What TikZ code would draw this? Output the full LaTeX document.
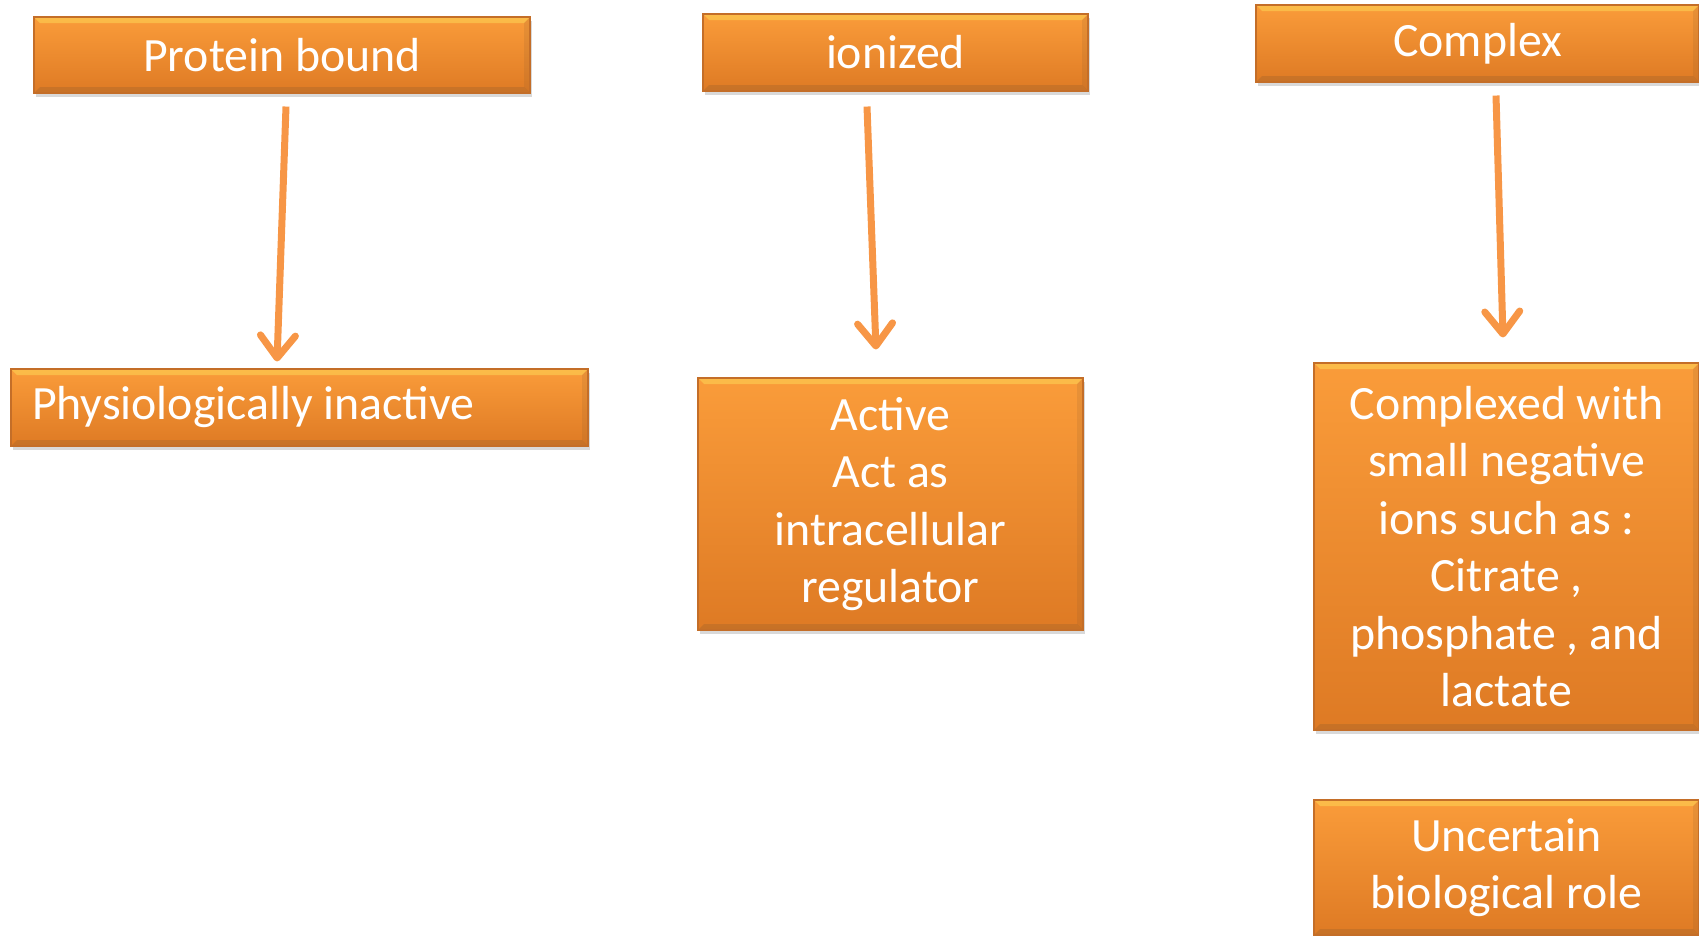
\documentclass[tikz,border=0pt]{standalone}
\usepackage{fontspec}
\setmainfont{Carlito}
\usetikzlibrary{arrows.meta,shadows}

\definecolor{boxtop}{RGB}{250,156,58}
\definecolor{boxbot}{RGB}{222,122,36}
\definecolor{boxrim}{RGB}{196,110,40}
\definecolor{arrcol}{RGB}{247,150,70}

\tikzset{
  orangebox/.style={draw=boxrim, line width=0.6pt,
    top color=boxtop, bottom color=boxbot,
    text=white, inner sep=0cm, align=center,
    font=\fontsize{27.2}{32.7}\selectfont,
    drop shadow={opacity=0.3, shadow xshift=0.04cm, shadow yshift=-0.08cm},
    path picture={
      \fill[yellow!60!white, opacity=0.35]
        (path picture bounding box.north west) -- (path picture bounding box.north east)
        -- ([xshift=-0.12cm,yshift=-0.12cm]path picture bounding box.north east)
        -- ([xshift=0.12cm,yshift=-0.12cm]path picture bounding box.north west) -- cycle;
      \fill[brown!70!black, opacity=0.25]
        (path picture bounding box.south west) -- (path picture bounding box.south east)
        -- ([xshift=-0.12cm,yshift=0.12cm]path picture bounding box.south east)
        -- ([xshift=0.12cm,yshift=0.12cm]path picture bounding box.south west) -- cycle;
      \fill[brown!70!black, opacity=0.15]
        (path picture bounding box.north east) -- (path picture bounding box.south east)
        -- ([xshift=-0.12cm,yshift=0.12cm]path picture bounding box.south east)
        -- ([xshift=-0.12cm,yshift=-0.12cm]path picture bounding box.north east) -- cycle;
    }},
  downarrow/.style={draw=arrcol, line width=0.14cm,
    -{Straight Barb[length=0.45cm,width=0.7cm,round]}}
}

\begin{document}
\begin{tikzpicture}

\useasboundingbox (0,0) rectangle (33.98,-18.70);

% first column
\node[orangebox, minimum width=9.92cm, minimum height=1.52cm]
  (pb) at (5.64,-1.10) {Protein bound};
\node[orangebox, text width=10.70cm, inner xsep=0.42cm, align=flush left,
  minimum height=1.54cm] (pi) at (5.99,-8.15) {Physiologically inactive};

% second column
\node[orangebox, minimum width=7.70cm, minimum height=1.54cm]
  (ion) at (17.91,-1.05) {ionized};
\node[orangebox, minimum width=7.70cm, minimum height=5.04cm]
  (act) at (17.81,-10.08) {Active\\Act as\\intracellular\\regulator};

% third column
\node[orangebox, minimum width=8.86cm, minimum height=1.54cm]
  (cx) at (29.55,-0.87) {Complex};
\node[orangebox, minimum width=7.70cm, minimum height=7.34cm]
  (cw) at (30.13,-10.93)
  {Complexed with\\small negative\\ions such as :\\Citrate ,\\phosphate , and\\lactate};
\node[orangebox, minimum width=7.70cm, minimum height=2.70cm]
  (ur) at (30.13,-17.35) {Uncertain\\biological role};

\draw[downarrow] ([xshift=0.08cm,yshift=-0.26cm]pb.south) -- ([xshift=-0.45cm,yshift=0.14cm]pi.north);
\draw[downarrow] ([xshift=-0.57cm,yshift=-0.30cm]ion.south) -- ([xshift=-0.29cm,yshift=0.56cm]act.north);
\draw[downarrow] ([xshift=0.37cm,yshift=-0.26cm]cx.south) -- ([xshift=-0.07cm,yshift=0.50cm]cw.north);
\end{tikzpicture}
\end{document}
